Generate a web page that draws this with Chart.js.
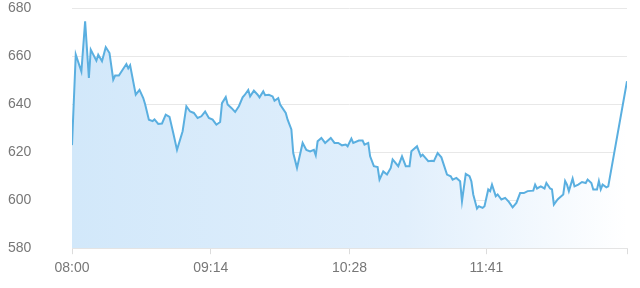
<!DOCTYPE html>
<html>
<head>
<meta charset="utf-8">
<script src="https://cdn.jsdelivr.net/npm/chart.js@4.4.0/dist/chart.umd.min.js"></script>
<style>
  html, body { margin: 0; padding: 0; background: #fff; }
  #wrap { width: 640px; height: 288px; }
</style>
</head>
<body>
<div id="wrap"><canvas id="myChart"></canvas></div>
<script>
// minutes after 08:00
var minutes = [0,2,5,7,9,10,13,14,16,18,20,22,23,25,27,29,30,31,34,36,38,39,41,43,44,46,48,50,52,54,56,59,61,63,65,67,69,71,73,75,77,79,80,82,83,85,87,89,91,92,94,95,97,99,100,102,103,105,107,108,110,111,114,115,117,118,120,123,125,127,129,130,131,133,135,138,140,142,144,146,147,149,150,153,155,156,158,159,161,163,164,166,168,170,171,174,176,178,180,181,184,186,187,190,192,193,195,197,198,200,202,203,205,207,208,210,212,213,214,216,217,219,220,222,223,224,226,227,229,231,233,235,237,239,241,243,246,247,248,250,252,253,255,256,257,259,260,262,263,264,265,267,268,270,272,274,275,277,278,280,281,282,283,285,286,296];
var values = [623,660.8,653.7,674.6,651,662.8,658.2,660.7,658,663.8,661.4,650.3,652,652,654.4,656.8,655,656.3,644,646,642.6,640,633.6,633,633.7,631.8,632,635.7,634.8,628,621,628.8,639.2,637,636.4,634.3,635,637,634.3,633.6,631.5,632.6,640.5,643,639.9,638.5,636.8,639.2,642.9,643.8,646,643.3,645.7,644,642.9,645.4,643.8,644,643.3,641.5,642.6,639.9,636.4,633.6,629.5,619.7,613.5,623.9,621,620.4,621,618.8,624.6,626,623.9,626,623.9,623.9,622.9,623.2,622.5,625.7,623.9,624.9,624.9,623.2,623.9,618.3,614.2,613.8,608.6,612,610.7,613.5,617,614.2,618.3,614.2,614.2,620.4,622.5,618.3,619,616.3,616.5,616.3,619.7,617.9,615.5,610.7,610,608.6,609.3,607.9,599.6,611,610,607.9,602.4,596.5,597.5,596.8,597.5,604.5,603.8,606.5,601.7,602.4,600.3,601,599.3,597,598.9,603,603,603.8,604,606.5,604.9,605.8,604.9,607.2,604.9,604.5,598.2,600.3,601,602.4,608,606.5,603.8,609,605.8,606.5,607.6,607.2,608.6,607.2,604.5,604.5,608,604.5,606.5,605.4,605.8,649.6];

var tickMinutes = [0, 74, 148, 221, 296];
var tickLabels = ['08:00', '09:14', '10:28', '11:41', ''];
var yMin = 580, yMax = 680, yStep = 20;

var points = [];
for (var i = 0; i < minutes.length; i++) {
  points.push({x: minutes[i], y: values[i]});
}

function fillGradient(context) {
  var area = context.chart.chartArea;
  if (!area) return 'rgba(214,234,249,1)';
  var g = context.chart.ctx.createLinearGradient(area.left, 0, area.right, 0);
  g.addColorStop(0, 'rgba(210,232,250,1)');
  g.addColorStop(0.6, 'rgba(225,239,252,1)');
  g.addColorStop(1, 'rgba(255,255,255,1)');
  return g;
}

var ctx = document.getElementById('myChart').getContext('2d');
var myChart = new Chart(ctx, {
  type: 'line',
  data: {
    datasets: [{
      data: points,
      borderColor: '#5aafe0',
      borderWidth: 2,
      backgroundColor: fillGradient,
      fill: 'start',
      pointRadius: 0,
      tension: 0
    }]
  },
  options: {
    responsive: true,
    maintainAspectRatio: false,
    animation: false,
    layout: { padding: { left: 8, right: 13, top: 0, bottom: 5 } },
    plugins: { legend: { display: false }, tooltip: { enabled: false } },
    scales: {
      x: {
        type: 'linear',
        min: 0,
        max: 296,
        afterBuildTicks: function(axis) {
          axis.ticks = tickMinutes.map(function(v) { return {value: v}; });
        },
        grid: { drawOnChartArea: false, drawTicks: true, tickLength: 6, color: '#dcdcdc' },
        border: { color: '#e4e4e4' },
        ticks: {
          color: '#777',
          font: { family: 'Liberation Sans, Arial', size: 14 },
          padding: 6,
          maxRotation: 0,
          autoSkip: false,
          callback: function(v) {
            var k = tickMinutes.indexOf(v);
            return k >= 0 ? tickLabels[k] : '';
          }
        }
      },
      y: {
        min: yMin,
        max: yMax,
        afterFit: function(axis) { axis.width = 64; },
        grid: { drawTicks: false, color: '#e8e8e8' },
        border: { display: false },
        ticks: {
          stepSize: yStep,
          color: '#777',
          crossAlign: 'far',
          font: { family: 'Liberation Sans, Arial', size: 14 },
          padding: 0
        }
      }
    }
  }
});
</script>
</body>
</html>
